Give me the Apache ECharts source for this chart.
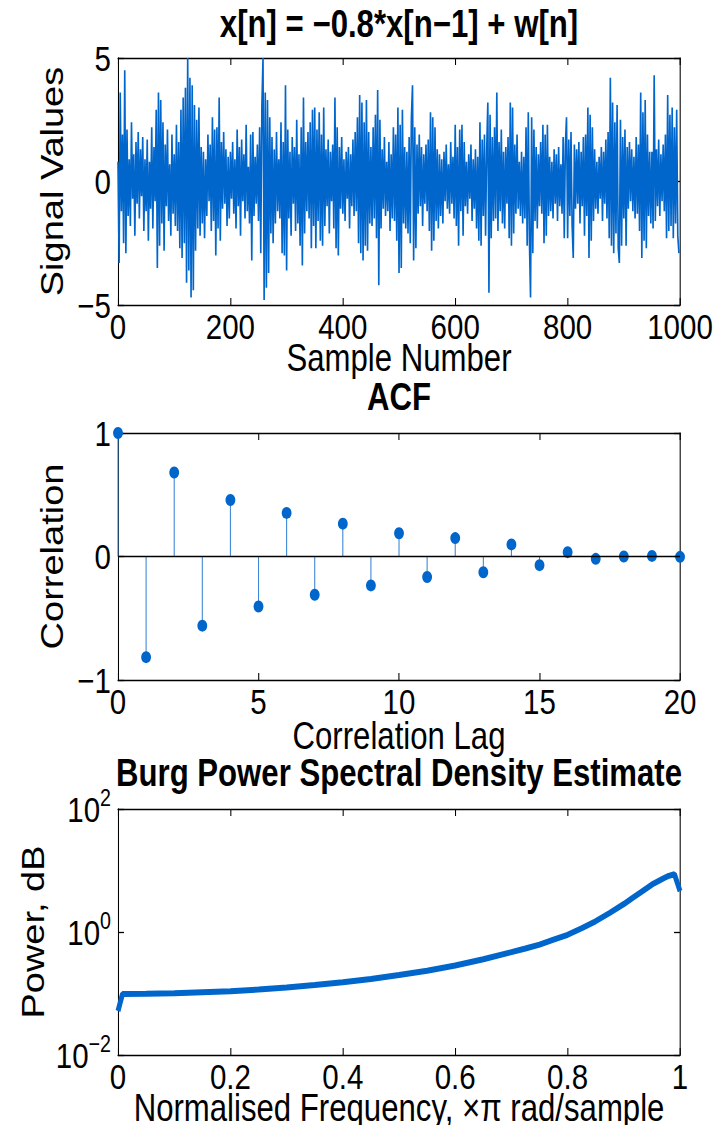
<!DOCTYPE html>
<html>
<head>
<meta charset="utf-8">
<script src="https://cdn.jsdelivr.net/npm/echarts@6/dist/echarts.min.js"></script>
<style>
html,body{margin:0;padding:0;background:#fff;overflow:hidden;}
#wrap{width:715px;height:1125px;overflow:hidden;}
#c{width:872px;height:1125px;transform:scaleX(0.82);transform-origin:0 0;}
</style>
</head>
<body>
<div id="wrap"><div id="c"></div></div>
<script>
// ---- Data ----
// Signal values, every 2nd sample (sample number = 2*index), 0..998
const signalValues = [
 0.8,-3.3,3.6,-1.2,1.9,-2.5,4.5,-2.9,2.1,-1.4,0.9,-1.8,2.4,-0.7,1.1,-2.2,1.6,-0.9,2.0,-1.5,1.3,-0.6,1.8,-2.0,0.9,
 -1.2,1.7,-2.4,0.8,-1.1,2.2,-1.9,1.4,-0.8,2.9,-3.5,3.6,-2.6,3.3,-1.7,2.4,-2.8,1.5,-1.0,2.1,-1.6,0.7,-2.2,1.9,-1.3,
 1.1,-1.8,2.3,-2.0,1.6,-2.7,2.9,-3.1,3.4,-2.5,3.8,-4.1,5.0,-3.6,4.2,-4.7,3.9,-4.4,3.1,-2.8,2.5,-1.9,3.0,-2.2,1.4,
 -1.7,1.2,-2.3,0.9,-1.4,1.9,-0.8,1.5,-2.0,2.6,-1.6,2.1,-3.0,2.2,-1.9,3.4,-2.4,1.6,-1.1,2.0,-0.9,1.3,-1.8,1.0,-1.5,
 1.2,-0.7,1.6,-1.3,0.9,-1.9,2.1,-1.0,1.4,-2.2,1.7,-0.8,1.1,-1.5,2.3,-1.2,0.6,-1.7,1.9,-3.2,2.0,-1.4,1.0,-0.9,1.5,
 -1.6,2.2,-2.9,3.1,5.0,-4.8,3.6,-4.3,3.3,-3.7,2.6,-2.1,1.8,-2.5,1.3,-1.7,2.0,-1.2,0.9,-1.5,2.4,-2.9,1.6,-3.0,3.9,
 -3.6,2.1,-1.5,1.2,-2.2,1.8,-0.9,1.4,-2.0,2.5,-1.7,1.1,-2.6,2.2,-3.4,3.4,-2.1,1.6,-1.2,2.0,-1.5,2.4,-2.7,2.9,-1.8,
 3.0,-2.7,2.1,-1.6,2.8,-2.4,1.9,-2.6,3.0,-1.8,1.3,-1.0,1.7,-2.1,1.2,-0.8,1.5,-1.9,3.4,-2.7,2.2,-3.0,1.4,-1.1,1.8,
 -1.3,0.9,-1.6,1.2,-0.7,1.4,-1.9,1.1,-1.0,1.7,-1.4,2.0,-1.2,2.6,-2.5,3.5,-2.9,3.2,-3.2,2.4,-2.6,3.3,-2.8,2.0,-1.7,
 1.4,-1.8,2.2,-1.5,2.7,-2.3,3.7,-4.2,2.5,-1.9,1.3,-1.1,1.8,-1.4,0.8,-1.2,1.6,-2.0,1.1,-1.5,2.2,-1.6,1.9,-2.4,3.0,
 -3.7,2.3,-3.5,2.9,-1.7,1.4,-1.9,1.2,-2.1,1.8,-2.5,2.6,3.9,-3.2,2.2,-2.7,1.5,-1.3,1.9,-1.0,1.4,-1.8,1.1,-0.9,1.5,
 -1.2,1.7,-2.0,2.8,-2.8,2.6,-2.4,2.2,-1.6,1.3,-1.9,1.1,-1.4,0.9,-1.7,1.2,-0.8,1.5,-1.1,0.7,-1.3,1.6,-0.9,1.0,-1.5,
 2.3,-1.8,1.4,-2.6,2.1,-1.2,2.3,-2.2,1.6,-1.0,0.8,-1.3,1.1,-0.7,1.5,-1.6,0.9,-1.1,1.3,-1.9,1.0,-2.4,2.4,-2.6,1.7,
 -1.4,1.9,-2.2,1.3,3.2,-4.5,2.7,-2.3,1.8,-1.6,2.2,-1.5,3.6,-2.0,1.6,-1.2,2.1,-1.7,1.2,-1.9,1.4,-0.9,1.8,-2.3,3.2,
 -2.6,3.0,-2.1,1.5,-1.3,1.9,-1.1,0.8,-1.4,1.2,-1.7,1.0,-1.5,2.2,-2.6,2.8,-2.4,-4.7,2.6,-2.9,2.1,-1.6,1.4,-1.9,1.1,
 -1.0,1.6,-1.3,2.3,-2.5,1.9,-2.2,2.3,-1.4,1.0,-1.2,0.8,-1.5,1.3,-0.9,1.1,-1.6,1.4,-1.0,0.7,-1.3,1.8,-2.3,1.5,2.6,
 -2.3,1.7,-1.4,2.0,-1.8,-3.1,1.5,-1.1,1.3,-0.9,1.6,-1.7,1.2,-1.0,1.8,-2.2,1.9,-1.4,3.0,-3.1,2.7,-2.4,2.2,-1.6,1.3,
 -1.1,0.8,-1.3,1.0,-0.7,1.4,-1.6,1.2,-0.9,1.7,-1.5,2.0,-2.3,4.2,-2.6,3.2,-2.9,2.4,-2.1,3.1,-2.7,-3.3,2.5,-2.6,1.8,
 -1.5,2.1,-2.6,1.4,-1.1,1.6,-0.8,1.3,-1.2,1.0,-1.5,1.8,-1.3,1.5,-2.0,3.6,-3.1,2.8,-2.4,3.3,-2.7,1.9,-1.4,1.2,-1.7,
 1.2,-1.9,4.3,-1.6,1.3,-1.0,1.7,-1.4,1.1,-0.8,1.5,-1.2,1.9,-2.3,3.5,-2.0,2.7,-1.8,3.0,-2.3,2.2,-1.7,2.9,-2.2,-2.9
];
const sampleStep = 2;

const acfLags = [0,1,2,3,4,5,6,7,8,9,10,11,12,13,14,15,16,17,18,19,20];
const acfValues = [1.0,-0.815,0.68,-0.56,0.457,-0.405,0.353,-0.31,0.266,-0.234,0.188,-0.166,0.149,-0.128,0.098,-0.07,0.035,-0.019,0.0,0.005,-0.003];

const psdFreq  = [0, 0.008, 0.05, 0.1, 0.15, 0.2, 0.25, 0.3, 0.35, 0.4, 0.45, 0.5, 0.55, 0.6, 0.65, 0.7, 0.725, 0.75, 0.775, 0.8, 0.825, 0.85, 0.875, 0.9, 0.915, 0.93, 0.95, 0.97, 0.98, 0.99, 1.0];
const psdPower = [0.052, 0.098, 0.099, 0.101, 0.105, 0.109, 0.116, 0.125, 0.137, 0.152, 0.172, 0.2, 0.235, 0.285, 0.36, 0.47, 0.54, 0.625, 0.75, 0.9, 1.15, 1.5, 2.05, 2.85, 3.55, 4.4, 5.9, 7.4, 8.2, 8.7, 4.6];

const psdTickValues = [0.01, 1, 100];

// ---- Chart ----
// The reference text is a horizontally condensed Helvetica; the whole
// drawing is made on a wider surface and condensed with CSS scaleX(S).
const S = 0.82;
const X = px => px / S;   // target-picture x-pixels -> pre-scale pixels
const FONT = '"Liberation Sans",Arial,sans-serif';
const BLUE = '#0066cc';
const FS = 38;      // titles and axis names
const FT = 36;      // tick labels
const minusFmt = v => String(v).replace('-', '\u2212');

const gridBase = {left:X(118), right:X(35), outerBoundsMode:'none', containLabel:false};
const grids = [
  Object.assign({top:58, height:247}, gridBase),
  Object.assign({top:433, height:247}, gridBase),
  Object.assign({top:809, height:246}, gridBase)
];

const lineCol = {color:'#000', width:1.3};
function xAx(gi, min, max, interval, name, nameGap, fmt){
  return [{
    gridIndex: gi, type:'value', min, max, interval, position:'bottom',
    name, nameLocation:'middle', nameGap, nameMoveOverlap:false,
    nameTextStyle:{fontFamily:FONT, fontSize:FS, color:'#000', lineHeight:30},
    axisLine:{show:true, onZero:false, lineStyle:lineCol},
    axisTick:{show:true, inside:true, length:7, lineStyle:{color:'#000', width:1.3}},
    axisLabel:{fontFamily:FONT, fontSize:FT, color:'#000', margin:6, lineHeight:30, formatter: fmt || (v=>minusFmt(v))},
    splitLine:{show:false}
  },{
    gridIndex: gi, type:'value', min, max, interval, position:'top',
    axisLine:{show:true, onZero:false, lineStyle:lineCol},
    axisTick:{show:true, inside:true, length:7, lineStyle:{color:'#000', width:1.3}},
    axisLabel:{show:false}, splitLine:{show:false}
  }];
}
function yAx(gi, opts, name, nameGap, labelExtra, tickExtra){
  const base = Object.assign({gridIndex:gi, type:'value'}, opts);
  return [Object.assign({}, base, {
    position:'left', name, nameLocation:'middle', nameGap, nameMoveOverlap:false,
    nameTextStyle:{fontFamily:FONT, fontSize:FS, color:'#000'},
    axisLine:{show:true, onZero:false, lineStyle:lineCol},
    axisTick:Object.assign({show:true, inside:true, length:X(6), lineStyle:{color:'#000', width:1.3}}, tickExtra||{}),
    axisLabel: Object.assign({fontFamily:FONT, fontSize:FT, color:'#000', margin:X(7), formatter: v=>minusFmt(v)}, labelExtra||{}),
    splitLine:{show:false}
  }), Object.assign({}, base, {
    position:'right',
    axisLine:{show:true, onZero:false, lineStyle:lineCol},
    axisTick:Object.assign({show:true, inside:true, length:X(6), lineStyle:{color:'#000', width:1.3}}, tickExtra||{}),
    axisLabel:{show:false}, splitLine:{show:false}
  })];
}

const xAxes = [].concat(
  xAx(0, 0, 1000, 200, 'Sample Number', 38),
  xAx(1, 0, 20, 5, 'Correlation Lag', 41),
  xAx(2, 0, 1, 0.2, 'Normalised Frequency, \u00d7\u03c0 rad/sample', 38, v => (v===0?'0':(v===1?'1':v.toFixed(1))))
);
const logFmt = v => { const e = Math.round(Math.log10(v)); return '{b|10}{s|' + minusFmt(e) + '}'; };
const yAxes = [].concat(
  yAx(0, {min:-5, max:5, interval:5}, 'Signal Values', 61),
  yAx(1, {min:-1, max:1, interval:1}, 'Correlation', 61),
  yAx(2, {type:'log', logBase:10, min:0.01, max:100}, 'Power, dB', 84,
      {customValues: psdTickValues, formatter: logFmt, rich:{
          b:{fontFamily:FONT, fontSize:FT, color:'#000'},
          s:{fontFamily:FONT, fontSize:24, color:'#000', padding:[0,0,22,0]}
      }},
      {customValues: psdTickValues})
);

const titleStyle = {font:'bold '+FS+'px '+FONT, fill:'#000', textAlign:'center', textVerticalAlign:'middle'};
const option = {
  animation:false,
  backgroundColor:'#fff',
  grid: grids,
  xAxis: xAxes,
  yAxis: yAxes,
  graphic: [
    {type:'text', x:X(399), y:24, style:Object.assign({text:'x[n] = \u22120.8*x[n\u22121] + w[n]'}, titleStyle)},
    {type:'text', x:X(399), y:397, style:Object.assign({text:'ACF'}, titleStyle)},
    {type:'text', x:X(399), y:773, style:Object.assign({text:'Burg Power Spectral Density Estimate'}, titleStyle)}
  ],
  series: [
    {
      type:'line', xAxisIndex:0, yAxisIndex:0, showSymbol:false, symbol:'none',
      lineStyle:{color:BLUE, width:2}, itemStyle:{color:BLUE},
      data: signalValues.map((v,i)=>[i*sampleStep, v])
    },
    {
      type:'custom', xAxisIndex:2, yAxisIndex:2,
      renderItem: (params, api) => {
        const p0 = api.coord([api.value(0), 0]);
        const p1 = api.coord([api.value(0), api.value(1)]);
        return {type:'line', shape:{x1:p0[0], y1:p0[1], x2:p1[0], y2:p1[1]}, style:{stroke:'#3b86d6', lineWidth:1.3}};
      },
      data: acfLags.map((l,i)=>[l, acfValues[i]]),
      markLine:{silent:true, symbol:'none', label:{show:false},
        lineStyle:{color:'#000', width:1.3, type:'solid'}, data:[{yAxis:0}]}
    },
    {
      type:'scatter', xAxisIndex:2, yAxisIndex:2, symbol:'circle', symbolSize:12,
      itemStyle:{color:BLUE, opacity:1},
      data: acfLags.map((l,i)=>[l, acfValues[i]])
    },
    {
      type:'line', xAxisIndex:4, yAxisIndex:4, showSymbol:false, symbol:'none', smooth:false,
      lineStyle:{color:BLUE, width:6},
      data: psdFreq.map((f,i)=>[f, psdPower[i]])
    }
  ]
};
const chart = echarts.init(document.getElementById('c'), null, {renderer:'svg'});
chart.setOption(option);
</script>
</body>
</html>
